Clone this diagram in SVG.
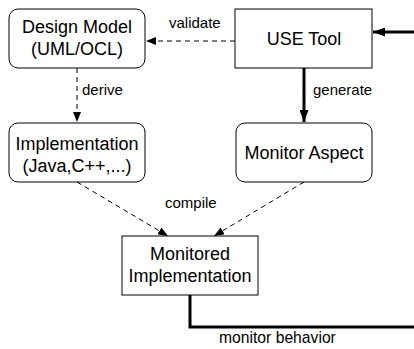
<svg xmlns="http://www.w3.org/2000/svg" width="414" height="349" viewBox="0 0 414 349">
<defs>
<marker id="ah" viewBox="0 0 10 8" refX="10" refY="4" markerWidth="10" markerHeight="8" markerUnits="userSpaceOnUse" orient="auto">
<path d="M0,0 L10,4 L0,8 Z" fill="#000"/>
</marker>
<marker id="ahb" viewBox="0 0 12 9" refX="12" refY="4.5" markerWidth="12" markerHeight="9" markerUnits="userSpaceOnUse" orient="auto">
<path d="M0,0 L12,4.5 L0,9 Z" fill="#000"/>
</marker>
</defs>
<style>
.box{fill:#fff;stroke:#000;stroke-width:1}
.t{font-family:"Liberation Sans",Arial,sans-serif;font-size:18px;text-anchor:middle;fill:#000}
.l{font-family:"Liberation Sans",Arial,sans-serif;font-size:15px;fill:#000}
.d{fill:none;stroke:#000;stroke-width:1;stroke-dasharray:5,4}
.k{fill:none;stroke:#000;stroke-width:3}
</style>
<rect width="414" height="349" fill="#fff"/>
<g id="connectors">
<line class="d" x1="235" y1="41" x2="146" y2="41" marker-end="url(#ah)"/>
<line class="k" x1="414" y1="32" x2="373" y2="32" marker-end="url(#ahb)"/>
<line class="d" x1="77" y1="68" x2="77" y2="122" marker-end="url(#ah)"/>
<line class="k" x1="304" y1="68" x2="304" y2="122" marker-end="url(#ahb)"/>
<line class="d" x1="77" y1="182" x2="168" y2="236" marker-end="url(#ah)"/>
<line class="d" x1="304" y1="182" x2="214" y2="236" marker-end="url(#ah)"/>
<polyline class="k" points="190,295 190,327 414,327"/>
<text class="l" x="169" y="28">validate</text>
<text class="l" x="82" y="95">derive</text>
<text class="l" x="313" y="95">generate</text>
<text class="l" x="165" y="208">compile</text>
<text class="l" x="219" y="343" style="font-size:15.7px">monitor behavior</text>
</g>
<g id="design-model">
<rect class="box" x="9" y="9" width="136" height="59" rx="9"/>
<text class="t" x="77" y="33">Design Model</text>
<text class="t" x="77" y="55">(UML/OCL)</text>
</g>
<g id="use-tool">
<rect class="box" x="235" y="9" width="137" height="59"/>
<text class="t" x="304" y="45">USE Tool</text>
</g>
<g id="implementation">
<rect class="box" x="9" y="123" width="136" height="59" rx="9"/>
<text class="t" x="77" y="150">Implementation</text>
<text class="t" x="77" y="172">(Java,C++,...)</text>
</g>
<g id="monitor-aspect">
<rect class="box" x="236" y="123" width="136" height="59" rx="9"/>
<text class="t" x="304" y="159">Monitor Aspect</text>
</g>
<g id="monitored-implementation">
<rect class="box" x="122" y="236" width="136" height="59"/>
<text class="t" x="190" y="260">Monitored</text>
<text class="t" x="190" y="282">Implementation</text>
</g>
</svg>
